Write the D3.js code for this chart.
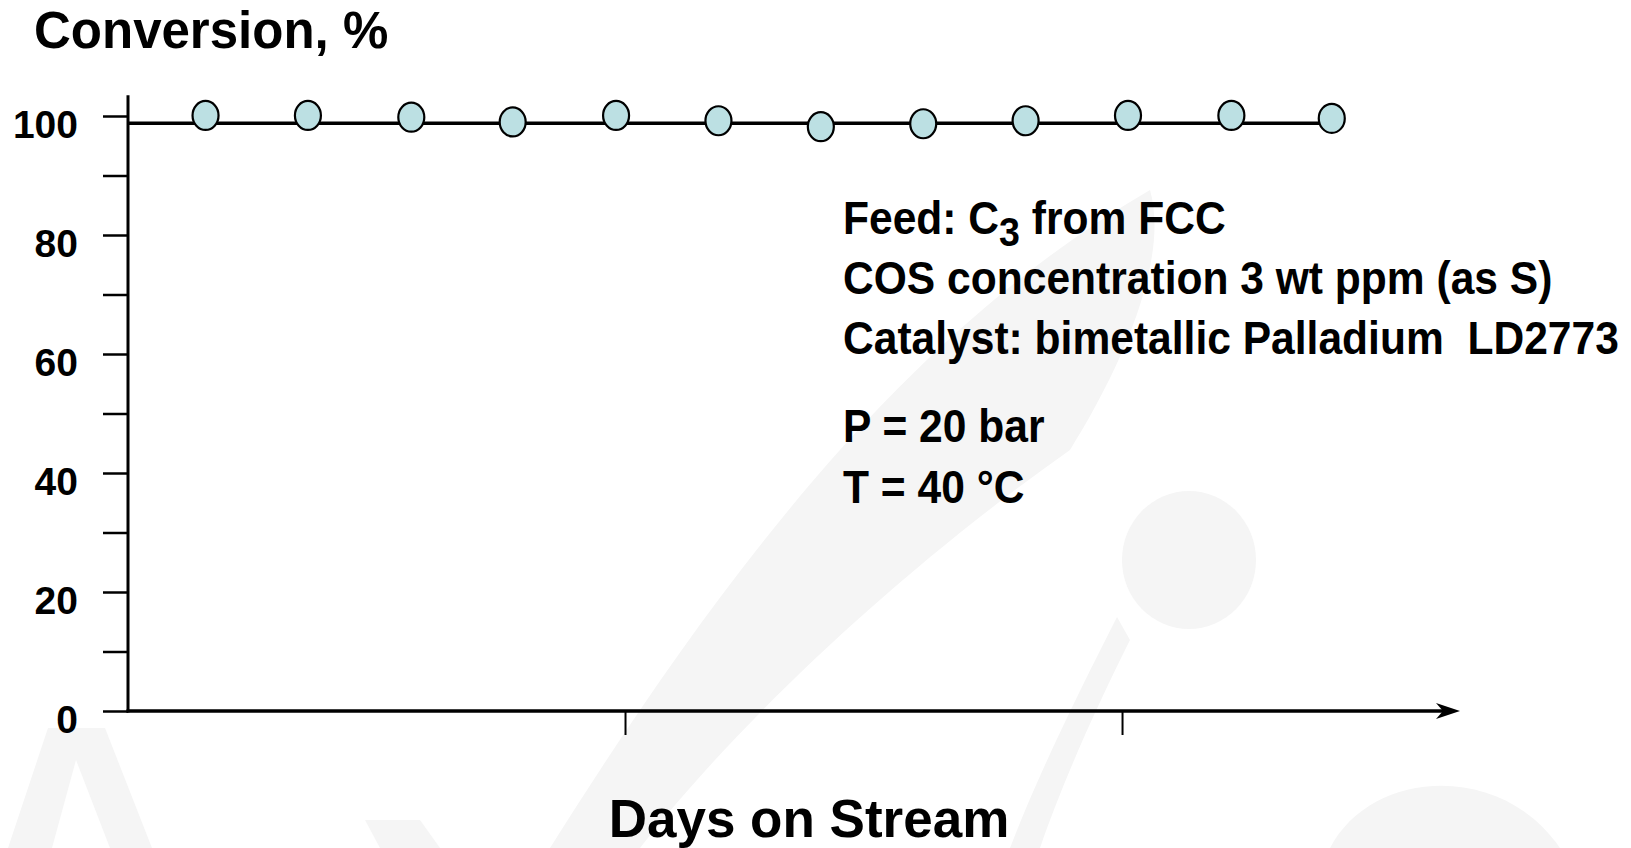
<!DOCTYPE html>
<html>
<head>
<meta charset="utf-8">
<script src="https://cdn.jsdelivr.net/npm/d3@7"></script>
<style>
  html, body { margin: 0; padding: 0; background: #fff; }
  svg { display: block; font-family: "Liberation Sans", Arial, sans-serif; font-weight: bold; }
</style>
</head>
<body>
<svg id="chart" width="1631" height="848"></svg>
<script>
// values
const days = [7.8, 18.1, 28.5, 38.7, 49.1, 59.4, 69.7, 80.0, 90.3, 100.6, 111.0, 121.1];
const conversion = [100.1, 100.1, 99.8, 99.0, 100.1, 99.2, 98.2, 98.7, 99.2, 100.1, 100.1, 99.6];
const refLevel = 98.8;
const yTicks = d3.range(0, 101, 10);
const yLabels = [0, 20, 40, 60, 80, 100];
const xTicks = [50, 100];
const notes = [
  ['Feed: C', '3', ' from FCC'],
  ['COS concentration 3 wt ppm (as S)'],
  ['Catalyst: bimetallic Palladium \u00a0LD2773'],
  ['P = 20 bar'],
  ['T = 40 °C']
];

const svg = d3.select('#chart'),
  x = d3.scaleLinear().domain([0, 134]).range([128, 1460]),
  y = d3.scaleLinear().domain([0, 100]).range([711, 116]),
  yTop = 103.5;

// faint logo watermark in the background
const wm = svg.append('g').attr('fill', '#f5f5f5');
wm.append('path').attr('d', 'M550,848 C700,610 890,340 1150,190 C1170,260 1120,370 1070,450 C900,570 740,720 640,848 Z');
wm.append('ellipse').attr('cx', 1189).attr('cy', 560).attr('rx', 67).attr('ry', 69);
wm.append('path').attr('d', 'M1117,617 L1130,640 C1090,720 1060,790 1040,848 L1010,848 C1040,770 1080,690 1117,617 Z');
wm.append('path').attr('d', 'M48,728 L105,728 L152,848 L110,848 L76,760 L52,848 L8,848 Z');
wm.append('path').attr('d', 'M365,820 L420,820 L440,848 L380,848 Z');
wm.append('path').attr('d', 'M1330,848 C1370,770 1500,760 1560,848 Z');

// y axis
const yAxis = d3.axisLeft(y)
  .tickValues(yTicks)
  .tickSize(25)
  .tickSizeOuter(0)
  .tickPadding(25)
  .tickFormat(d => (yLabels.includes(d) ? d : ''));

const gy = svg.append('g').attr('transform', `translate(${x(0)},0)`).call(yAxis);
gy.select('.domain').remove();
gy.selectAll('.tick line').attr('stroke', '#000').attr('stroke-width', 2.5);
gy.selectAll('.tick text')
  .attr('fill', '#000')
  .attr('dy', '0.55em')
  .style('font-size', '39px')
  .style('font-family', '"Liberation Sans", Arial, sans-serif')
  .style('font-weight', 'bold');

svg.append('line')
  .attr('x1', x(0)).attr('x2', x(0))
  .attr('y1', y(0) + 1.5).attr('y2', y(yTop))
  .attr('stroke', '#000').attr('stroke-width', 3);

// x axis, unlabeled ticks and an arrow at the end
const xAxis = d3.axisBottom(x)
  .tickValues(xTicks)
  .tickSize(24)
  .tickSizeOuter(0)
  .tickFormat('');

const gx = svg.append('g').attr('transform', `translate(0,${y(0)})`).call(xAxis);
gx.select('.domain').remove();
gx.selectAll('.tick line').attr('stroke', '#000').attr('stroke-width', 2);

const xEnd = x.range()[1];
svg.append('line')
  .attr('x1', x(0) - 1.5).attr('x2', xEnd - 8)
  .attr('y1', y(0)).attr('y2', y(0))
  .attr('stroke', '#000').attr('stroke-width', 3.5);
svg.append('path')
  .attr('d', `M${xEnd},${y(0)} L${xEnd - 24},${y(0) - 8} L${xEnd - 17},${y(0)} L${xEnd - 24},${y(0) + 8} Z`)
  .attr('fill', '#000');

// flat level line through the points
svg.append('line')
  .attr('x1', x(0)).attr('x2', x(days[days.length - 1]))
  .attr('y1', y(refLevel)).attr('y2', y(refLevel))
  .attr('stroke', '#000').attr('stroke-width', 3.5);

// data points
svg.append('g')
  .selectAll('ellipse')
  .data(days.map((d, i) => ({ day: d, value: conversion[i] })))
  .join('ellipse')
  .attr('cx', d => x(d.day))
  .attr('cy', d => y(d.value))
  .attr('rx', 13)
  .attr('ry', 14.5)
  .attr('fill', '#bce0e3')
  .attr('stroke', '#000')
  .attr('stroke-width', 2.2);

// titles
svg.append('text')
  .attr('x', 34).attr('y', 48)
  .style('font-size', '51px')
  .text('Conversion, %');

svg.append('text')
  .attr('x', 809).attr('y', 837)
  .attr('text-anchor', 'middle')
  .style('font-size', '53px')
  .text('Days on Stream');

// annotation block, glyphs a little taller than plain Arial
const noteY = [234, 294, 354, 442, 503];
const gn = svg.append('g').style('font-size', '43px');
notes.forEach((parts, i) => {
  const t = gn.append('text')
    .attr('transform', `translate(843,${noteY[i]}) scale(0.99,1.07)`);
  if (parts.length === 1) {
    t.text(parts[0]);
  } else {
    t.append('tspan').text(parts[0]);
    t.append('tspan').attr('dy', 11).style('font-size', '38px').text(parts[1]);
    t.append('tspan').attr('dy', -11).text(parts[2]);
  }
});
</script>
</body>
</html>
